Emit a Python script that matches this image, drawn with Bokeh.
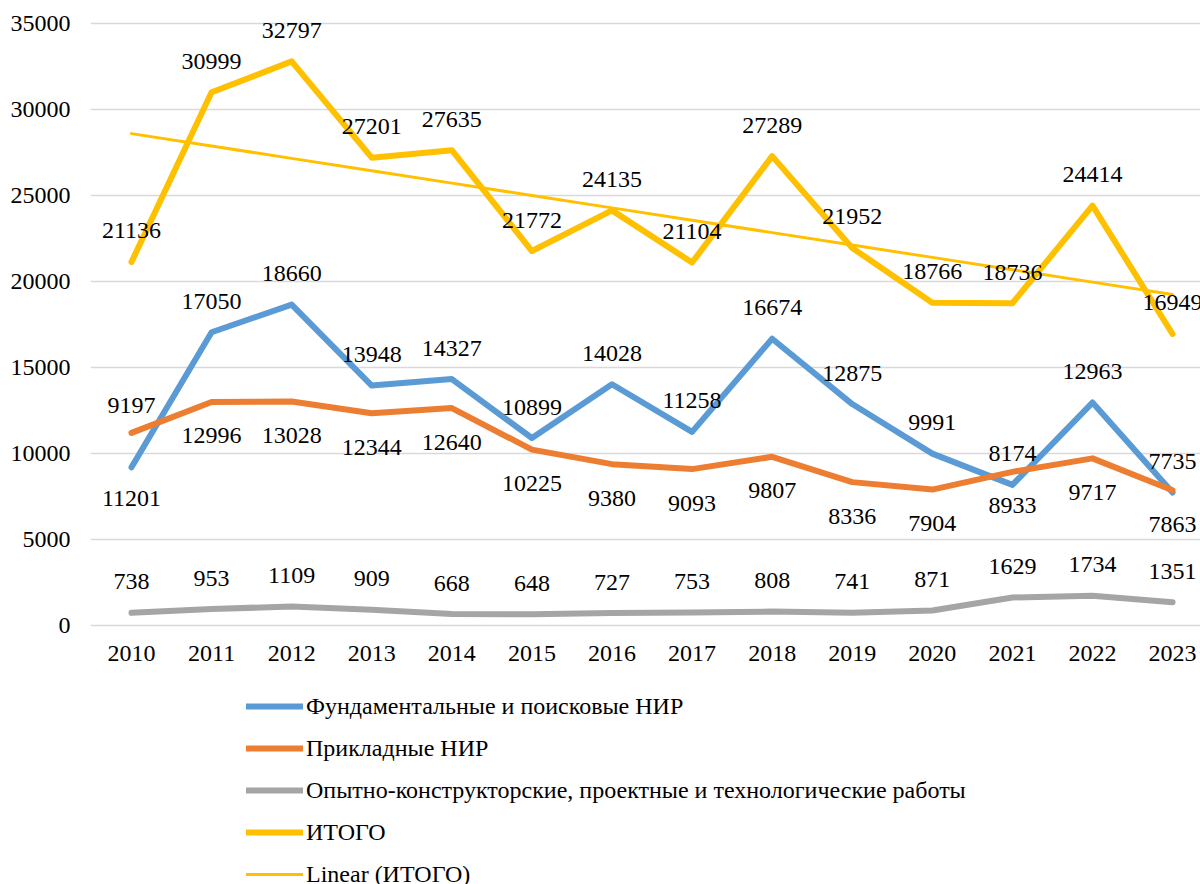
import numpy as np
from bokeh.plotting import figure
from bokeh.layouts import column
from bokeh.models import ColumnDataSource, FixedTicker, Legend, LegendItem, Range1d
from bokeh.core.properties import value
from bokeh.embed import file_html
from bokeh.resources import INLINE

# ---------------- data ----------------
years = [2010, 2011, 2012, 2013, 2014, 2015, 2016, 2017, 2018, 2019, 2020, 2021, 2022, 2023]
fundamental = [9197, 17050, 18660, 13948, 14327, 10899, 14028, 11258, 16674, 12875, 9991, 8174, 12963, 7735]
applied = [11201, 12996, 13028, 12344, 12640, 10225, 9380, 9093, 9807, 8336, 7904, 8933, 9717, 7863]
development = [738, 953, 1109, 909, 668, 648, 727, 753, 808, 741, 871, 1629, 1734, 1351]
total = [21136, 30999, 32797, 27201, 27635, 21772, 24135, 21104, 27289, 21952, 18766, 18736, 24414, 16949]

series_names = [
    "Фундаментальные и поисковые НИР",
    "Прикладные НИР",
    "Опытно-конструкторские, проектные и технологические работы",
    "ИТОГО",
    "Linear (ИТОГО)",
]
y_ticks = [0, 5000, 10000, 15000, 20000, 25000, 30000, 35000]

# ---------------- styles ----------------
colors = ["#5B9BD5", "#ED7D31", "#A5A5A5", "#FFC000", "#FFC000"]
widths = [6, 6, 6, 6, 3]
FONT = "Liberation Serif"
# label vertical offsets in screen px (negative = above point)
fund_dy = [-62] + [-31] * 13
appl_dy = [66] + [34] * 13
dev_dy = [-31] * 14
total_dy = [-31] * 14

# linear trend of total
coef = np.polyfit(years, total, 1)
trend = list(np.polyval(coef, years))
all_series = [fundamental, applied, development, total, trend]

MAIN_H = 691
LEFT = 90
p = figure(
    width=1200, height=MAIN_H,
    output_backend="svg", toolbar_location=None,
    x_range=Range1d(2009.488, 2023.349),
    y_range=Range1d(-581, 36337),
    min_border_left=LEFT, min_border_right=0, min_border_top=0, min_border_bottom=56,
)
p.outline_line_color = None
p.background_fill_color = "white"
p.border_fill_color = "white"

# axes
p.xaxis.ticker = FixedTicker(ticks=years)
p.yaxis.ticker = FixedTicker(ticks=y_ticks)
for ax in (p.xaxis[0], p.yaxis[0]):
    ax.axis_line_color = None
    ax.major_tick_line_color = None
    ax.minor_tick_line_color = None
    ax.major_tick_out = 0
    ax.major_tick_in = 0
    ax.minor_tick_out = 0
    ax.minor_tick_in = 0
    ax.major_label_text_font = FONT
    ax.major_label_text_font_size = "24px"
    ax.major_label_text_color = "#000000"
p.yaxis.major_label_standoff = 20
p.xaxis.major_label_standoff = 10
p.xgrid.grid_line_color = None
p.ygrid.ticker = FixedTicker(ticks=y_ticks)
p.ygrid.grid_line_color = "#d9d9d9"
p.ygrid.grid_line_width = 1.5

for ys, c, w in zip(all_series, colors, widths):
    p.line(years, ys, line_color=c, line_width=w, line_join="round", line_cap="round")

# data labels
for ys, dys in zip([fundamental, applied, development, total], [fund_dy, appl_dy, dev_dy, total_dy]):
    src = ColumnDataSource(dict(x=years, y=ys, t=[str(v) for v in ys], dy=dys))
    p.text(x="x", y="y", text="t", y_offset="dy", source=src,
           text_font=value(FONT), text_font_size=value("24px"), text_color="#000000",
           text_align="center", text_baseline="middle")

# ---------------- legend panel (below the chart) ----------------
q = figure(
    width=1200, height=884 - MAIN_H,
    output_backend="svg", toolbar_location=None,
    x_axis_location=None, y_axis_location=None,
    x_range=Range1d(2009.488, 2023.349), y_range=Range1d(-581, 36337),
    min_border_left=LEFT, min_border_right=0, min_border_top=0, min_border_bottom=0,
)
q.outline_line_color = None
q.grid.grid_line_color = None
q.background_fill_color = "white"
q.border_fill_color = "white"
leg_renderers = []
for ys, c, w in zip(all_series, colors, widths):
    r = q.line(years, ys, line_color=c, line_width=w, line_cap="round", visible=False)
    leg_renderers.append(r)

legend = Legend(
    items=[LegendItem(label=n, renderers=[r]) for n, r in zip(series_names, leg_renderers)],
    location=(156, -4),
    orientation="vertical",
    glyph_width=57, glyph_height=28, label_height=28, label_standoff=3,
    spacing=14, padding=0, margin=0,
    label_text_font=FONT, label_text_font_size="24px", label_text_color="#000000",
    border_line_alpha=0, background_fill_alpha=0,
)
q.add_layout(legend, "center")

layout = column(p, q, spacing=0)
open("out.html", "w").write(file_html(layout, INLINE))
